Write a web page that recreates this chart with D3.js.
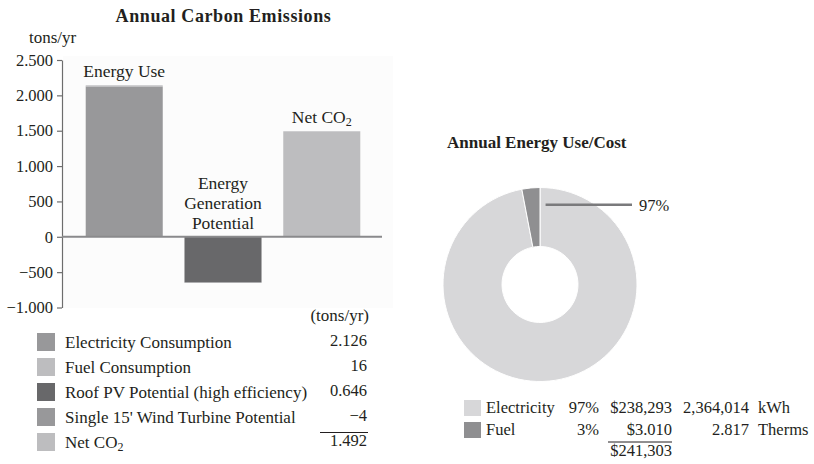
<!DOCTYPE html>
<html>
<head>
<meta charset="utf-8">
<script src="https://cdn.jsdelivr.net/npm/d3@7"></script>
<style>
  html, body { margin: 0; padding: 0; background: #fff; }
  svg text { font-family: "Liberation Serif", "Times New Roman", serif; fill: #231f20; }
</style>
</head>
<body>
<svg id="chart" width="814" height="464"></svg>
<script>
// ---- Carbon emissions (tons/yr) ----
const barCategories = ["Energy Use", "Energy Generation Potential", "Net CO2"];
const emissionItems = ["Electricity Consumption", "Fuel Consumption", "Roof PV Potential (high efficiency)", "Single 15' Wind Turbine Potential", "Net CO2"];
const emissionValues = [2126, 16, -646, -4, 1492];
const emissionLabels = ["2.126", "16", "0.646", "\u22124", "1.492"];
const emissionBar = [0, 0, 1, 1, 2];          // which bar each item stacks into
const emissionColors = ["#98989a", "#bdbdbf", "#68686a", "#98989a", "#bdbdbf"];
const yTicks = [-1000, -500, 0, 500, 1000, 1500, 2000, 2500];
const yTickLabels = ["\u22121.000", "\u2212500", "0", "500", "1.000", "1.500", "2.000", "2.500"];

// ---- Annual energy use / cost ----
const energyTypes = ["Electricity", "Fuel"];
const energyShare = [97, 3];
const energyShareLabels = ["97%", "3%"];
const energyCost = ["$238,293", "$3.010"];
const energyAmount = ["2,364,014", "2.817"];
const energyUnits = ["kWh", "Therms"];
const energyTotal = "$241,303";
const energyColors = ["#d7d7d9", "#8f8f91"];

const svg = d3.select("#chart");

// ================= Bar chart =================
const y = d3.scaleLinear().domain([-1000, 2500]).range([307.5, 60]);
const x = d3.scaleBand().domain(barCategories).range([62, 384]).paddingInner(0.22).paddingOuter(0.24);

svg.append("rect").attr("x", 63).attr("y", 56).attr("width", 330).attr("height", 252).attr("fill", "#fcfcfc");

svg.append("text").attr("x", 223.5).attr("y", 22).attr("text-anchor", "middle")
  .style("font-size", "18px").style("font-weight", "bold").style("letter-spacing", "0.6px")
  .text("Annual Carbon Emissions");
svg.append("text").attr("x", 29).attr("y", 43).style("font-size", "17px").text("tons/yr");

// y axis
const yAxis = d3.axisLeft(y).tickValues(yTicks)
  .tickFormat((d, i) => yTickLabels[i]).tickSize(5).tickPadding(4).tickSizeOuter(0);
const gy = svg.append("g").attr("transform", "translate(62,0)").call(yAxis);
gy.select(".domain").attr("stroke", "#6d6d6d").attr("stroke-width", 1.2);
gy.selectAll(".tick line").attr("stroke", "#6d6d6d").attr("stroke-width", 1.2);
gy.selectAll(".tick text").style("font-family", "Liberation Serif, serif").style("font-size", "16.5px").attr("fill", "#231f20");

// stacked bars: positive values stack up, negative down
const stackTop = [0, 0, 0], stackBot = [0, 0, 0];
const segs = emissionValues.map((v, i) => {
  const b = emissionBar[i];
  let y0, y1;
  if (v >= 0) { y0 = stackTop[b]; y1 = y0 + v; stackTop[b] = y1; }
  else { y0 = stackBot[b]; y1 = y0 + v; stackBot[b] = y1; }
  return { b, y0, y1, color: emissionColors[i] };
});
svg.append("g").selectAll("rect").data(segs).join("rect")
  .attr("x", d => x(barCategories[d.b]))
  .attr("width", x.bandwidth())
  .attr("y", d => y(Math.max(d.y0, d.y1)))
  .attr("height", d => Math.abs(y(d.y0) - y(d.y1)))
  .attr("fill", d => d.color);

// zero line
svg.append("line").attr("x1", 62).attr("x2", 382).attr("y1", y(0)).attr("y2", y(0))
  .attr("stroke", "#8a8a8c").attr("stroke-width", 2);

// bar labels
const cx = i => x(barCategories[i]) + x.bandwidth() / 2;
svg.append("text").attr("x", cx(0)).attr("y", y(stackTop[0]) - 8).attr("text-anchor", "middle")
  .style("font-size", "17.5px").text("Energy Use");
const genLines = ["Energy", "Generation", "Potential"];
genLines.forEach((t, k) => {
  svg.append("text").attr("x", cx(1)).attr("y", 189 + k * 20).attr("text-anchor", "middle")
    .style("font-size", "17.5px").text(t);
});
const netLbl = svg.append("text").attr("x", cx(2)).attr("y", y(stackTop[2]) - 8).attr("text-anchor", "middle")
  .style("font-size", "17.5px");
netLbl.append("tspan").text("Net CO");
netLbl.append("tspan").attr("dy", 3).style("font-size", "12px").text("2");

// legend table
svg.append("text").attr("x", 369).attr("y", 321).attr("text-anchor", "end").style("font-size", "17px").text("(tons/yr)");
const leg = svg.append("g").selectAll("g").data(emissionItems).join("g")
  .attr("transform", (d, i) => `translate(0,${333 + i * 25})`);
leg.append("rect").attr("x", 37).attr("y", 0).attr("width", 18).attr("height", 18)
  .attr("fill", (d, i) => emissionColors[i]);
leg.each(function (d, i) {
  const t = d3.select(this).append("text").attr("x", 65).attr("y", 15).style("font-size", "17px");
  if (d === "Net CO2") {
    t.append("tspan").text("Net CO");
    t.append("tspan").attr("dy", 3).style("font-size", "12px").text("2");
  } else t.text(d);
});
leg.append("text").attr("x", 367).attr("y", 13).attr("text-anchor", "end").style("font-size", "16.5px")
  .text((d, i) => emissionLabels[i]);
svg.append("line").attr("x1", 320).attr("x2", 368).attr("y1", 432.5).attr("y2", 432.5)
  .attr("stroke", "#231f20").attr("stroke-width", 1);

// ================= Donut chart =================
const dcx = 540, dcy = 284.5, rOuter = 97, rInner = 38;
svg.append("text").attr("x", 447).attr("y", 148).style("font-size", "17px").style("font-weight", "bold")
  .text("Annual Energy Use/Cost");

const pie = d3.pie().sort(null).value(d => d);
const arc = d3.arc().innerRadius(rInner).outerRadius(rOuter);
const dg = svg.append("g").attr("transform", `translate(${dcx},${dcy})`);
dg.selectAll("path").data(pie(energyShare)).join("path")
  .attr("d", arc).attr("fill", (d, i) => energyColors[i])
  .attr("stroke", "#fff").attr("stroke-width", 1);

// leader line for the largest slice
const ang = (4 / 180) * Math.PI, rl = 80;
const lx = dcx + rl * Math.sin(ang), ly = dcy - rl * Math.cos(ang);
svg.append("line").attr("x1", lx).attr("y1", ly).attr("x2", 632).attr("y2", ly)
  .attr("stroke", "#7a7a7c").attr("stroke-width", 2.5);
svg.append("text").attr("x", 639).attr("y", ly + 6).style("font-size", "16.5px").text(energyShareLabels[0]);

// donut legend table
const dl = svg.append("g").selectAll("g").data(energyTypes).join("g")
  .attr("transform", (d, i) => `translate(0,${400 + i * 22})`);
dl.append("rect").attr("x", 464).attr("y", 0).attr("width", 17).attr("height", 16)
  .attr("fill", (d, i) => energyColors[i]);
dl.append("text").attr("x", 486).attr("y", 13).style("font-size", "16.5px").text(d => d);
dl.append("text").attr("x", 599).attr("y", 13).attr("text-anchor", "end").style("font-size", "16.5px").text((d, i) => energyShareLabels[i]);
dl.append("text").attr("x", 672).attr("y", 13).attr("text-anchor", "end").style("font-size", "16.5px").text((d, i) => energyCost[i]);
dl.append("text").attr("x", 749).attr("y", 13).attr("text-anchor", "end").style("font-size", "16.5px").text((d, i) => energyAmount[i]);
dl.append("text").attr("x", 758).attr("y", 13).style("font-size", "16.5px").text((d, i) => energyUnits[i]);
svg.append("line").attr("x1", 608).attr("x2", 672).attr("y1", 442).attr("y2", 442)
  .attr("stroke", "#231f20").attr("stroke-width", 1);
svg.append("text").attr("x", 672).attr("y", 456).attr("text-anchor", "end").style("font-size", "16.5px").text(energyTotal);
</script>
</body>
</html>
